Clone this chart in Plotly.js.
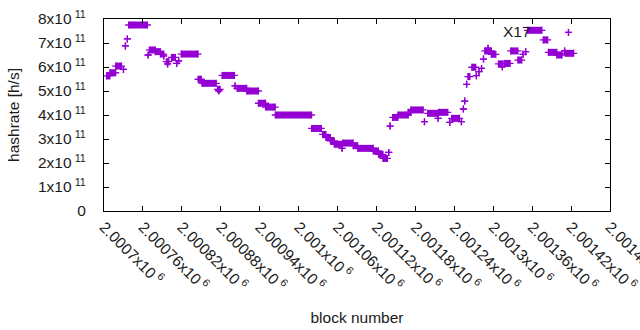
<!DOCTYPE html>
<html><head><meta charset="utf-8">
<script src="https://cdn.plot.ly/plotly-3.0.1.min.js"></script>
<style>html,body{margin:0;padding:0;background:#fff}#chart{width:640px;height:330px}</style>
</head><body><div id="chart"></div>
<script>
// Runs of constant hashrate: first block, last block, value (h/s)
const runStart = [2000704,2000709,2000718,2000730,2000733,2000736,2000738,2000768,2000770,2000779,2000787,2000792,2000796,2000798,2000804,2000812,2000815,2000819,2000845,2000851,2000875,2000877,2000882,2000902,2000905,2000920,2000938,2000949,2000964,2001020,2001037,2001042,2001049,2001055,2001067,2001068,2001084,2001091,2001115,2001123,2001130,2001139,2001141,2001145,2001153,2001169,2001173,2001194,2001199,2001215,2001216,2001233,2001236,2001251,2001254,2001256,2001259,2001261,2001267,2001274,2001278,2001282,2001285,2001287,2001292,2001297,2001308,2001314,2001317,2001327,2001338,2001346,2001350,2001353,2001377,2001385,2001398,2001410,2001416,2001411];
const runEnd   = [2000709,2000718,2000727,2000730,2000733,2000736,2000767,2000768,2000779,2000787,2000792,2000792,2000800,2000798,2000810,2000812,2000815,2000845,2000850,2000873,2000879,2000877,2000901,2000902,2000920,2000938,2000949,2000964,2001020,2001035,2001042,2001049,2001055,2001066,2001067,2001084,2001091,2001115,2001123,2001130,2001137,2001139,2001141,2001153,2001169,2001173,2001192,2001194,2001215,2001215,2001230,2001233,2001248,2001251,2001254,2001256,2001259,2001264,2001273,2001274,2001278,2001282,2001285,2001297,2001292,2001304,2001315,2001314,2001326,2001338,2001344,2001346,2001350,2001375,2001384,2001398,2001406,2001410,2001416,2001424];
const runValue = [5.63e11,5.76e11,6.04e11,5.90e11,6.88e11,7.17e11,7.75e11,6.50e11,6.71e11,6.64e11,6.54e11,6.46e11,6.22e11,6.13e11,6.40e11,6.15e11,6.26e11,6.54e11,5.49e11,5.32e11,5.07e11,5.01e11,5.65e11,5.21e11,5.11e11,5.00e11,4.49e11,4.33e11,4.00e11,3.44e11,3.19e11,3.06e11,2.92e11,2.78e11,2.61e11,2.83e11,2.72e11,2.61e11,2.50e11,2.36e11,2.19e11,2.44e11,3.54e11,3.90e11,4.00e11,4.11e11,4.21e11,3.72e11,4.07e11,3.86e11,4.11e11,3.69e11,3.86e11,3.72e11,4.25e11,4.58e11,5.28e11,5.60e11,5.99e11,5.64e11,5.81e11,5.94e11,6.33e11,6.67e11,6.78e11,6.53e11,6.13e11,6.01e11,6.15e11,6.67e11,6.29e11,6.53e11,6.64e11,7.53e11,7.13e11,6.61e11,6.50e11,6.67e11,7.44e11,6.57e11];

const xTickVals = [2000700,2000760,2000820,2000880,2000940,2001000,2001060,2001120,2001180,2001240,2001300,2001360,2001420,2001480];
const xTickMant = ['2.0007','2.00076','2.00082','2.00088','2.00094','2.001','2.00106','2.00112','2.00118','2.00124','2.0013','2.00136','2.00142','2.00148'];
const yTickVals = [0,1e11,2e11,3e11,4e11,5e11,6e11,7e11,8e11];
const yTickMant = ['0','1','2','3','4','5','6','7','8'];

const seriesName = 'X17';
const purple = '#9400d3';
const FONT = '"Liberation Sans", Arial, sans-serif';

const xs = [], ys = [];
for (let i = 0; i < runStart.length; i++) {
  xs.push(runStart[i], runEnd[i], null);
  ys.push(runValue[i], runValue[i], null);
}

const trace = {
  type: 'scatter', mode: 'lines+markers', name: seriesName,
  x: xs, y: ys, connectgaps: false,
  line: {color: purple, width: 7},
  marker: {symbol: 'cross-thin', size: 5, color: purple, line: {color: purple, width: 1.3}},
  showlegend: false, cliponaxis: false
};

const axBase = {
  showline: true, linecolor: '#000', linewidth: 1, mirror: 'ticks',
  ticks: 'inside', ticklen: 5, tickcolor: '#000', tickwidth: 1,
  showgrid: false, zeroline: false, tickmode: 'array',
  ticklabeloverflow: 'allow',
  tickfont: {family: FONT, size: 15.5, color: '#1a1a1a'}
};

const layout = {
  width: 640, height: 330,
  margin: {l: 104, r: 30, t: 19, b: 119},
  paper_bgcolor: '#fff', plot_bgcolor: '#fff',
  font: {family: FONT, size: 15.5, color: '#1a1a1a'},
  showlegend: false,
  xaxis: Object.assign({}, axBase, {
    range: [2000700, 2001480],
    tickvals: xTickVals,
    ticktext: xTickMant.map(m => m + 'x10\u2009<sup>6</sup>'),
    tickangle: 45,
    title: {text: 'block number', font: {family: FONT, size: 15.5, color: '#1a1a1a'}, standoff: 18}
  }),
  yaxis: Object.assign({}, axBase, {
    range: [0, 8e11],
    tickvals: yTickVals,
    ticktext: yTickMant.map(m => m === '0' ? '0' : m + 'x10\u2009<sup>11</sup>'),
    ticklabelstandoff: 14,
    title: {text: 'hashrate [h/s]', font: {family: FONT, size: 15.5, color: '#1a1a1a'}, standoff: 14}
  }),
  annotations: [{
    xref: 'paper', yref: 'paper', x: 0.848, y: 0.9375,
    xanchor: 'right', yanchor: 'middle', showarrow: false,
    text: seriesName, font: {family: FONT, size: 15.5, color: '#1a1a1a'}
  }]
};

Plotly.newPlot('chart', [trace], layout, {staticPlot: true});
</script>
</body></html>
